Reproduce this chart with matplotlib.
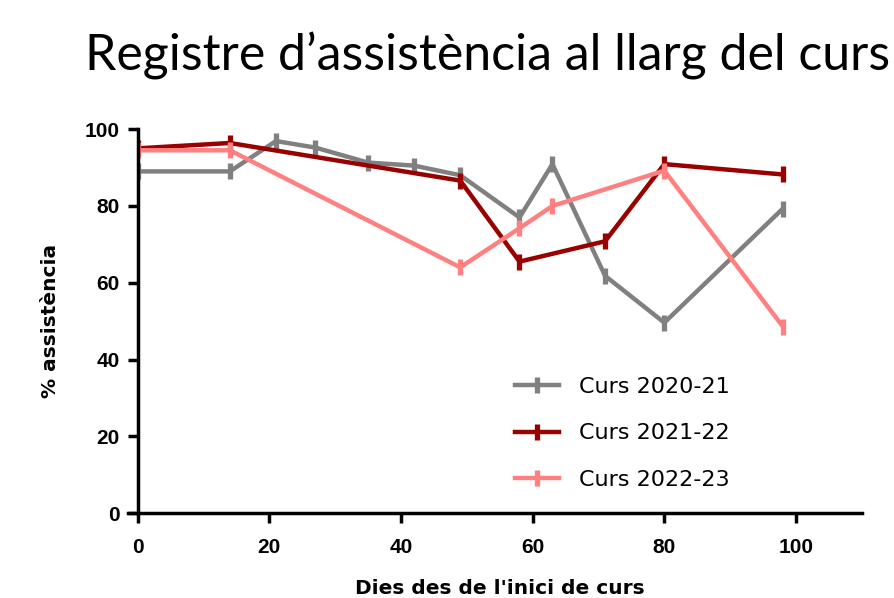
import matplotlib
matplotlib.use("Agg")
import matplotlib.pyplot as plt

# Attendance records
days_2021 = [0, 14, 21, 27, 35, 42, 49, 58, 63, 71, 80, 98]
att_2021 = [89, 89, 96.9, 95.2, 91.3, 90.5, 88, 77, 90.9, 61.8, 49.6, 79.3]

days_2122 = [0, 14, 49, 58, 71, 80, 98]
att_2122 = [95, 96.4, 86.6, 65.5, 70.8, 90.9, 88.2]

days_2223 = [0, 14, 49, 58, 63, 80, 98]
att_2223 = [94.5, 94.5, 64, 74.2, 80, 89.2, 48.6]

series = [
    ("Curs 2020-21", days_2021, att_2021, "#808080"),
    ("Curs 2021-22", days_2122, att_2122, "#990000"),
    ("Curs 2022-23", days_2223, att_2223, "#FF8080"),
]

plt.rcParams["font.family"] = ["Liberation Sans", "DejaVu Sans"]

fig = plt.figure(figsize=(8.94, 5.98), dpi=100)
ax = fig.add_axes([0.154, 0.142, 0.81, 0.642])

for label, x, y, color in series:
    ax.plot(x, y, color=color, lw=3.2, marker="|", markersize=12,
            markeredgewidth=3.8, label=label)

ax.set_xlim(0, 110)
ax.set_ylim(0, 100)
ax.set_xticks([0, 20, 40, 60, 80, 100])
ax.set_yticks([0, 20, 40, 60, 80, 100])
ax.spines["top"].set_visible(False)
ax.spines["right"].set_visible(False)
ax.spines["left"].set_linewidth(2.5)
ax.spines["bottom"].set_linewidth(2.5)
ax.spines["bottom"].set_bounds(-1.5, 110)
ax.tick_params(direction="out", length=7, width=2.5, labelsize=15, pad=6)
for t in ax.get_xticklabels() + ax.get_yticklabels():
    t.set_fontweight("bold")
ax.tick_params(axis="x", pad=11)

ax.set_xlabel("Dies des de l'inici de curs", fontsize=14.5, fontweight="bold",
              fontfamily="DejaVu Sans", labelpad=16)
ax.set_ylabel("% assistència", fontsize=14.5, fontweight="bold",
              fontfamily="DejaVu Sans", labelpad=18)

fig.suptitle("Registre d\u2019assistència al llarg del curs", x=0.545, y=0.947,
             fontsize=36, fontfamily="Lato", fontweight="normal")

ax.legend(loc="lower left", bbox_to_anchor=(0.493, 0.008), frameon=False,
          prop={"family": "DejaVu Sans", "size": 16},
          handlelength=2.0, handletextpad=0.9, labelspacing=1.2)

fig.savefig("out.png", dpi=100)
